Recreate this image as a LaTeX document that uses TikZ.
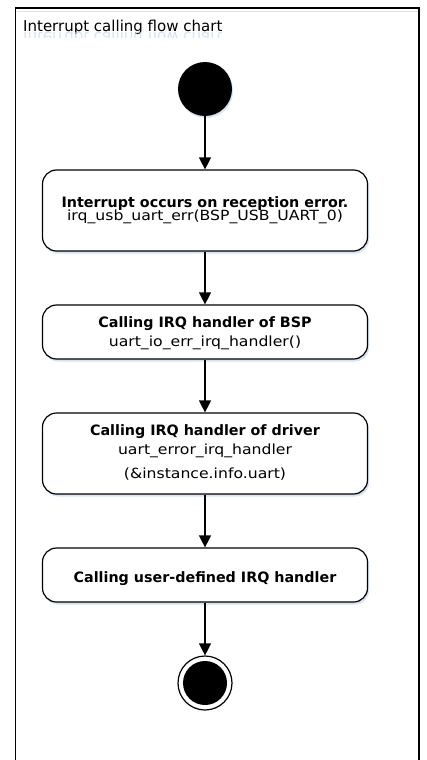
\documentclass[tikz,border=0pt]{standalone}
\usepackage{fontspec}
\setmainfont{DejaVu Sans}
\newfontfamily\widefont[FakeStretch=1.12]{DejaVu Sans}
\usetikzlibrary{arrows.meta,shadows}
\definecolor{shadowblue}{RGB}{214,226,245}
\definecolor{reflblue}{RGB}{200,214,238}
\tikzset{
  box/.style={draw=black, line width=1.2pt, rounded corners=14pt, fill=white,
    minimum width=325pt, inner sep=0pt,
    drop shadow={shadow xshift=1.5pt, shadow yshift=-2.5pt, fill=shadowblue, opacity=1}},
  flow/.style={draw=black, line width=1.3pt, -{Triangle[width=12pt,length=12pt]}},
  dot/.style={circle, fill=black, inner sep=0pt},
  btxt/.style={font=\fontsize{14.3}{16}\selectfont\bfseries, inner sep=0pt, anchor=base},
  ntxt/.style={font=\widefont\fontsize{14}{16}\selectfont, inner sep=0pt, anchor=base},
}
\begin{document}
\begin{tikzpicture}[x=1pt,y=-1pt]
\useasboundingbox (0,0) rectangle (427,760);
\clip (0,0) rectangle (427,760);
\fill[white] (0,0) rectangle (427,760);
% frame
\draw[shadowblue, line width=1pt] (17,11.5) -- (418,11.5);
\draw[black, line width=1.6pt] (15.5,800) -- (15.5,8) -- (419,8) -- (419,800);
\node[font=\fontsize{15}{17}\selectfont, anchor=base west, inner sep=0pt] (title) at (23,32) {Interrupt calling flow chart};
\begin{scope}
\clip (17,33) rectangle (300,38);
\begin{scope}[shift={(23,33)}]
\node[font=\fontsize{15}{17}\selectfont, anchor=base west, inner sep=0pt, yscale=-1, transform shape, text=reflblue, opacity=0.7] (titlerefl) at (0,0) {Interrupt calling flow chart};
\end{scope}
\end{scope}
% start
\node[dot, minimum size=54pt, drop shadow={shadow xshift=1pt, shadow yshift=-2pt, fill=shadowblue, opacity=1}] (start) at (205,89) {};
% boxes
\node[box, minimum height=81pt] (b1) at (205,210.5) {};
\node[btxt] (t1a) at (205,207) {Interrupt occurs on reception error.};
\node[ntxt] (t1b) at (205,220.5) {irq\_usb\_uart\_err(BSP\_USB\_UART\_0)};
\node[box, minimum height=54pt] (b2) at (205,332) {};
\node[btxt] (t2a) at (205,327.5) {Calling IRQ handler of BSP};
\node[ntxt] (t2b) at (205,346) {uart\_io\_err\_irq\_handler()};
\node[box, minimum height=81pt] (b3) at (205,453.5) {};
\node[btxt] (t3a) at (205,435.5) {Calling IRQ handler of driver};
\node[ntxt] (t3b) at (205,454.5) {uart\_error\_irq\_handler};
\node[ntxt] (t3c) at (205,478.5) {(\&instance.info.uart)};
\node[box, minimum height=54pt] (b4) at (205,575) {};
\node[btxt] (t4a) at (205,582.5) {Calling user-defined IRQ handler};
% end
\node[circle, draw=black, line width=1.2pt, fill=white, minimum size=54pt, inner sep=0pt] (end) at (205,683) {};
\node[dot, minimum size=44pt] (endin) at (205,683) {};
% connectors
\draw[flow] (start) -- (b1);
\draw[flow] (b1) -- (b2);
\draw[flow] (b2) -- (b3);
\draw[flow] (b3) -- (b4);
\draw[flow] (b4) -- (end);
\end{tikzpicture}
\end{document}
